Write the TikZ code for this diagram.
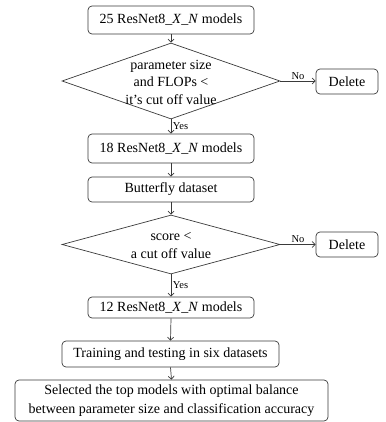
\documentclass[tikz,border=0pt]{standalone}
\usepackage{fontspec}
\setmainfont{Liberation Serif}
\usetikzlibrary{shapes.geometric,arrows.meta}
\definecolor{linecol}{HTML}{3A3A3A}
\begin{document}
\begin{tikzpicture}[x=1pt,y=-1pt,
  every node/.style={text=black},
  stepbox/.style={draw=linecol, line width=0.7pt, rounded corners=4pt, inner sep=0pt,
    align=center, font=\fontsize{14}{19}\selectfont},
  decision/.style={draw=linecol, line width=0.7pt, diamond, inner sep=0pt},
  dtext/.style={align=center, inner sep=0pt, font=\fontsize{14}{17.5}\selectfont},
  arr/.style={draw=linecol, line width=0.7pt, -{Straight Barb[length=3pt,width=6pt]}},
  tag/.style={font=\fontsize{10.5}{12}\selectfont, inner sep=1.5pt}]
\useasboundingbox (0,0) rectangle (385,422);

% main column
\node[stepbox, minimum width=166pt, minimum height=28pt] (m25) at (171,20)
  {25 ResNet8\_\textit{X}\_\textit{N} models};
\node[decision, minimum width=218pt, minimum height=76pt] (c1) at (171,81) {};
\node[dtext] (c1t) at (171,82) {parameter size\\and FLOPs \textless\\it’s cut off value};
\node[stepbox, minimum width=166pt, minimum height=29pt] (m18) at (171,148.5)
  {18 ResNet8\_\textit{X}\_\textit{N} models};
\node[stepbox, minimum width=166pt, minimum height=25pt] (bf) at (171,189.5)
  {Butterfly dataset};
\node[decision, minimum width=218pt, minimum height=59pt] (c2) at (171,244.5) {};
\node[dtext] (c2t) at (171,245.5) {score \textless\\a cut off value};
\node[stepbox, minimum width=166pt, minimum height=21pt] (m12) at (171,307.5)
  {12 ResNet8\_\textit{X}\_\textit{N} models};
\node[stepbox, minimum width=217pt, minimum height=26pt] (tr) at (170.5,354)
  {Training and testing in six datasets};
\node[stepbox, minimum width=313pt, minimum height=41pt] (sel) at (171.5,400.5)
  {Selected the top models with optimal balance\\between parameter size and classification accuracy};

% rejection boxes
\node[stepbox, minimum width=62pt, minimum height=25pt] (del1) at (347,81.5) {Delete};
\node[stepbox, minimum width=62pt, minimum height=25pt] (del2) at (347,244.5) {Delete};

% connectors
\draw[arr] (m25.south) -- (c1.north);
\draw[arr] (c1.south) -- node[tag, right] {Yes} (m18.north);
\draw[arr] (m18.south) -- (bf.north);
\draw[arr] (bf.south) -- (c2.north);
\draw[arr] (c2.south) -- node[tag, right] {Yes} (m12.north);
\draw[arr] (m12.south) -- (tr.north);
\draw[arr] (tr.south) -- (sel.north);
\draw[arr] (c1.east) -- node[tag, above] {No} (del1.west |- c1.east);
\draw[arr] (c2.east) -- node[tag, above] {No} (del2.west |- c2.east);
\end{tikzpicture}
\end{document}
